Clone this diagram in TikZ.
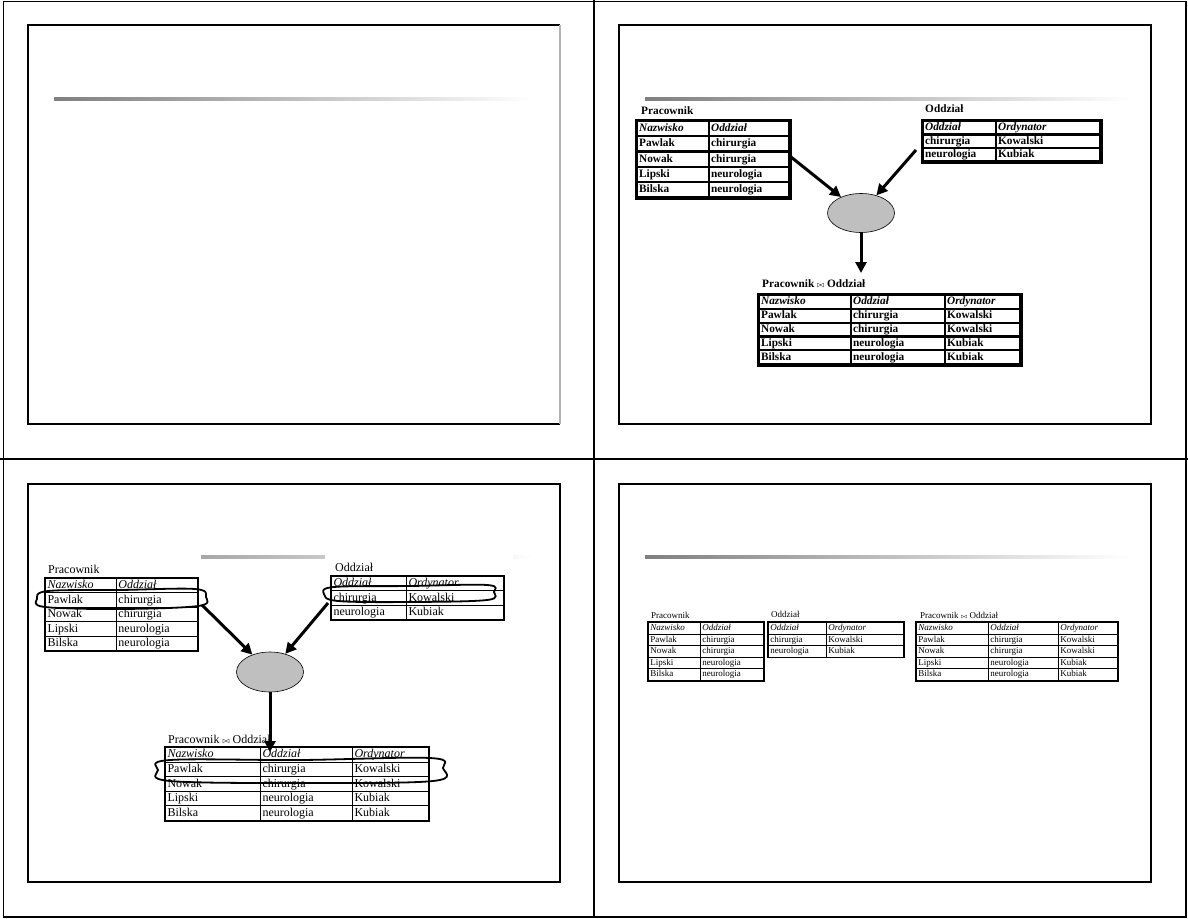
\documentclass[tikz,border=0pt]{standalone}
\usepackage{fontspec}
\setmainfont{Liberation Serif}
\usetikzlibrary{matrix,shapes.geometric,arrows.meta}

\newcommand{\bowjoin}{$\scriptstyle\triangleright\mkern-3mu\triangleleft$}

\tikzset{
  slide/.style={draw, line width=1.3pt},
  rule/.style={left color=gray, right color=white},
  cell/.style={draw, outer sep=0pt, inner xsep=2pt, inner ysep=0pt, align=left,
    text height=1.6ex, text depth=0.45ex},
  reltab/.style={matrix of nodes, anchor=north west, inner sep=0pt, outer sep=0pt,
    column sep=-#1, row sep=-#1, draw, line width=1.6pt,
    nodes={cell, line width=#1}, row 1/.style={nodes={font=\itshape}}},
  cols2/.style 2 args={column 1/.style={nodes={text width=#1}},
    column 2/.style={nodes={text width=#2}}},
  cols3/.style n args={3}{column 1/.style={nodes={text width=#1}},
    column 2/.style={nodes={text width=#2}}, column 3/.style={nodes={text width=#3}}},
  rowh/.style={nodes={minimum height=#1}},
  lbl/.style={anchor=base west, inner sep=0pt},
  opnode/.style={ellipse, draw, line width=0.6pt, fill=lightgray, minimum width=67pt,
    minimum height=39pt, inner sep=0pt},
  arr/.style={line width=3pt, -{Triangle[length=11pt,width=11pt]}},
  loopline/.style={line width=1.8pt, line join=round}
}

\begin{document}
\begin{tikzpicture}[x=1pt, y=-1pt]
  \useasboundingbox (0,0) rectangle (1188,918);

  % Page frame and the four slides
  \draw[line width=1.3pt] (3.5,1.5) rectangle (1186,917);
  \draw[line width=1.3pt] (594,0) -- (594,918);
  \draw[line width=1.3pt] (0,459) -- (1188,459);
  \draw[slide] (560,25) -- (28,25) -- (28,424) -- (560,424);
  \draw[line width=1.3pt, gray!60] (560,25) -- (560,424);
  \draw[slide] (28,484) -- (560,484) -- (560,882) -- (28,882) -- cycle;
  \draw[slide] (619,25) rectangle (1151,424);
  \draw[slide] (619,484) rectangle (1151,882);

  % Title rules
  \shade[rule] (54,97.5) rectangle (533,100.5);
  \shade[rule] (645,97) rectangle (1130,100);
  \shade[left color=gray!69, right color=gray!43] (201,555.5) rectangle (325,558.5);
  \shade[left color=gray!6, right color=white] (513,555.5) rectangle (533,558.5);
  \shade[rule] (645,555.5) rectangle (1128,558.5);

  % Top right slide
  \begin{scope}[execute at begin scope={\fontsize{11.3}{13}\selectfont\bfseries}]
    \node[lbl] (pracTRlbl) at (641,114) {Pracownik};
    \matrix (pracTR) [reltab=2.2pt, line width=3pt, cols2={68pt}{76pt}, rowh=15.2pt] at (636,120) {
      Nazwisko & Oddział \\
      Pawlak & chirurgia \\
      Nowak & chirurgia \\
      Lipski & neurologia \\
      Bilska & neurologia \\
    };
    \node[lbl] (oddzTRlbl) at (925,112) {Oddział};
    \matrix (oddzTR) [reltab=2.2pt, line width=3pt, cols2={69pt}{100pt}, rowh=13.3pt] at (922,120) {
      Oddział & Ordynator \\
      chirurgia & Kowalski \\
      neurologia & Kubiak \\
    };
    \node[lbl] (wynTRlbl) at (762,287) {Pracownik \bowjoin{} Oddział};
    \matrix (wynTR) [reltab=2.2pt, line width=3pt, cols3={88pt}{90pt}{71pt}, rowh=13.8pt] at (758,294) {
      Nazwisko & Oddział & Ordynator \\
      Pawlak & chirurgia & Kowalski \\
      Nowak & chirurgia & Kowalski \\
      Lipski & neurologia & Kubiak \\
      Bilska & neurologia & Kubiak \\
    };
    \node[opnode] (ellTR) at (861,213) {};
    \coordinate (inTRa) at (791,157);
    \coordinate (inTRb) at (916,150);
    \coordinate (outTR) at (861,273);
    \draw[arr] (inTRa) -- (ellTR);
    \draw[arr] (inTRb) -- (ellTR);
    \draw[arr] (ellTR) -- (outTR);
  \end{scope}

  % Bottom left slide
  \begin{scope}[execute at begin scope={\fontsize{12}{14}\selectfont}]
    \node[lbl] (pracBLlbl) at (48,573) {Pracownik};
    \matrix (pracBL) [reltab=1pt, cols2={67pt}{77pt}, rowh=14.4pt] at (45,578) {
      Nazwisko & Oddział \\
      Pawlak & chirurgia \\
      Nowak & chirurgia \\
      Lipski & neurologia \\
      Bilska & neurologia \\
    };
    \node[lbl] (oddzBLlbl) at (335,571) {Oddział};
    \matrix (oddzBL) [reltab=1pt, cols2={71pt}{93pt}, rowh=14.3pt] at (331,576) {
      Oddział & Ordynator \\
      chirurgia & Kowalski \\
      neurologia & Kubiak \\
    };
    \node[lbl] (wynBLlbl) at (168,743) {Pracownik \bowjoin{} Oddział};
    \matrix (wynBL) [reltab=1pt, cols3={91pt}{88pt}{72pt}, rowh=14.6pt] at (165,747) {
      Nazwisko & Oddział & Ordynator \\
      Pawlak & chirurgia & Kowalski \\
      Nowak & chirurgia & Kowalski \\
      Lipski & neurologia & Kubiak \\
      Bilska & neurologia & Kubiak \\
    };
    \node[opnode, minimum height=40pt] (ellBL) at (270,672) {};
    \coordinate (inBLa) at (202,605);
    \coordinate (inBLb) at (328,603);
    \coordinate (outBL) at (270,752);
    \draw[arr] (inBLa) -- (ellBL);
    \draw[arr] (inBLb) -- (ellBL);
    \draw[arr] (ellBL) -- (outBL);
    % hand drawn marks
    \draw[loopline] plot[smooth cycle, tension=0.6] coordinates
      {(37,599) (48,591) (120,590) (195,589) (206,597) (198,606) (120,609) (45,607)};
    \draw[loopline] plot[smooth cycle, tension=0.6] coordinates
      {(324,594) (334,587) (410,586) (487,585) (494,592) (487,600) (410,602) (338,601)};
    \draw[loopline] plot[smooth cycle, tension=0.6] coordinates
      {(158,770) (170,760) (300,760) (430,758) (443,768) (433,781) (300,783) (170,781)};
  \end{scope}

  % Bottom right slide
  \begin{scope}[execute at begin scope={\fontsize{9}{11}\selectfont}]
    \node[lbl] (pracBRlbl) at (651,618) {Pracownik};
    \matrix (pracBR) [reltab=0.8pt, cols2={48pt}{59pt}, rowh=11.6pt] at (648,622) {
      Nazwisko & Oddział \\
      Pawlak & chirurgia \\
      Nowak & chirurgia \\
      Lipski & neurologia \\
      Bilska & neurologia \\
    };
    \node[lbl] (oddzBRlbl) at (771,617) {Oddział};
    \matrix (oddzBR) [reltab=0.8pt, cols2={54pt}{73pt}, rowh=11.6pt] at (768,622) {
      Oddział & Ordynator \\
      chirurgia & Kowalski \\
      neurologia & Kubiak \\
    };
    \node[lbl] (wynBRlbl) at (920,618) {Pracownik \bowjoin{} Oddział};
    \matrix (wynBR) [reltab=0.8pt, cols3={68pt}{66pt}{55pt}, rowh=11.6pt] at (916,622) {
      Nazwisko & Oddział & Ordynator \\
      Pawlak & chirurgia & Kowalski \\
      Nowak & chirurgia & Kowalski \\
      Lipski & neurologia & Kubiak \\
      Bilska & neurologia & Kubiak \\
    };
  \end{scope}
\end{tikzpicture}
\end{document}
